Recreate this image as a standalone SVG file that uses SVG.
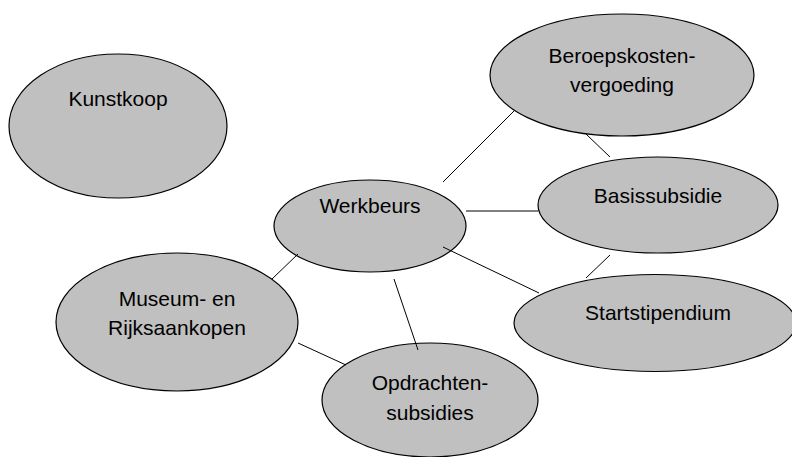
<svg xmlns="http://www.w3.org/2000/svg" width="792" height="457" viewBox="0 0 792 457">
<style>
.n ellipse{fill:#c0c0c0;stroke:#000;stroke-width:1.2}
.n text{font-family:"Liberation Sans",Arial,sans-serif;font-size:21px;fill:#000;text-anchor:middle}
.c line{stroke:#000;stroke-width:1}
</style>
<rect width="792" height="457" fill="#fff"/>
<g id="kunstkoop" class="n"><ellipse cx="118" cy="126" rx="109" ry="72"/><text x="118" y="106">Kunstkoop</text></g>
<g id="beroepskosten" class="n"><ellipse cx="622" cy="75" rx="132" ry="61"/><text x="622" y="63">Beroepskosten-</text><text x="622" y="92">vergoeding</text></g>
<g id="basissubsidie" class="n"><ellipse cx="658" cy="205" rx="120" ry="48"/><text x="658" y="203">Basissubsidie</text></g>
<g id="werkbeurs" class="n"><ellipse cx="370" cy="226" rx="96" ry="46"/><text x="370" y="213">Werkbeurs</text></g>
<g id="startstipendium" class="n"><ellipse cx="655" cy="323" rx="141" ry="48.5"/><text x="658" y="320">Startstipendium</text></g>
<g id="museum" class="n"><ellipse cx="177" cy="322" rx="121" ry="69"/><text x="177" y="306">Museum- en</text><text x="177" y="335">Rijksaankopen</text></g>
<g id="opdrachten" class="n"><ellipse cx="430" cy="400" rx="108" ry="57"/><text x="430" y="390">Opdrachten-</text><text x="430" y="420">subsidies</text></g>
<g id="connectors" class="c">
<line x1="443" y1="182" x2="514" y2="111"/>
<line x1="586" y1="134" x2="610" y2="157"/>
<line x1="466" y1="211" x2="538" y2="211"/>
<line x1="443" y1="247" x2="539" y2="293"/>
<line x1="610" y1="255" x2="586" y2="278"/>
<line x1="272" y1="279" x2="298" y2="254"/>
<line x1="298" y1="343" x2="346" y2="365"/>
<line x1="394" y1="279" x2="418" y2="350"/>
</g>
</svg>
